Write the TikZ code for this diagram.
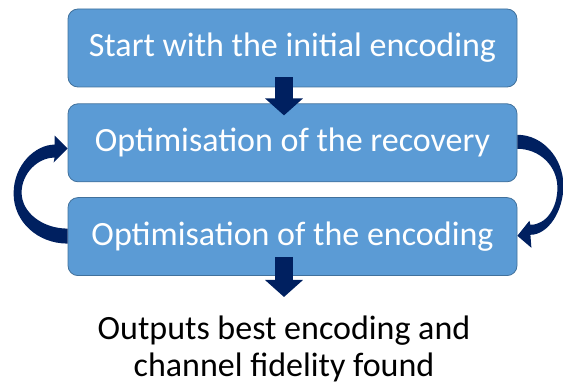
\documentclass[tikz,border=0pt]{standalone}
\usepackage{fontspec}
\setmainfont{Carlito}
\usetikzlibrary{positioning}
\usetikzlibrary{calc}
\usetikzlibrary{arrows.meta}
\definecolor{boxfill}{HTML}{5B9BD5}
\definecolor{boxedge}{HTML}{41719C}
\definecolor{navy}{HTML}{002060}
\tikzset{stage/.style={draw=boxedge, line width=0.8pt, fill=boxfill, rounded corners=10pt, minimum width=449pt, minimum height=78pt, inner sep=0pt, text=white, font=\fontsize{34}{40}\selectfont}}
\tikzset{blockarr/.style={draw=navy, line width=18pt, -{Triangle[width=37pt,length=17pt]}}}
\tikzset{loop/.style={fill=navy, draw=none}}

\begin{document}
\begin{tikzpicture}[x=1pt,y=-1pt]
    \useasboundingbox (0,0) rectangle (563,385);

    \node[stage] (start) at (292.5, 48) {Start with the initial encoding};
    \node[stage] (recov) [below=16pt of start] {Optimisation of the recovery};
    \node[stage] (enc) [below=15pt of recov] {Optimisation of the encoding};

    \node (res) [align=center, inner sep=0pt, font=\fontsize{34}{37}\selectfont] at (284, 349)
        {Outputs best encoding and\\channel fidelity found};

    \draw[blockarr] ($(start.south)+(-8.5,-10)$) -- ($(recov.north)+(-8.5,12)$);
    \draw[blockarr] ($(enc.south)+(-8.5,-19)$) -- ($(enc.south)+(-8.5,21)$);

    % back from the encoding to the recovery
    \begin{scope}[shift={(enc.west)}]
    \path[loop] (0,7) .. controls (-30,7) and (-54,-15) .. (-54,-43)
        .. controls (-54,-72) and (-32,-92) .. (-13,-92)
        -- (-13,-101) -- (0,-88) -- (-14,-74) -- (-13,-79)
        .. controls (-30,-79) and (-46,-63) .. (-46,-44)
        .. controls (-46,-24) and (-25,-8) .. (0,-8) -- cycle;
    \end{scope}

    % on from the recovery to the encoding
    \begin{scope}[shift={(recov.east)}]
    \path[loop] (0,-8) .. controls (25,-8) and (46,15) .. (46,43)
        .. controls (46,68) and (31,92) .. (13,92)
        -- (14,105) -- (0,93) -- (12,78) -- (13,82)
        .. controls (29,82) and (40,65) .. (40,45)
        .. controls (40,23) and (22,6) .. (0,6) -- cycle;
    \end{scope}
\end{tikzpicture}
\end{document}
